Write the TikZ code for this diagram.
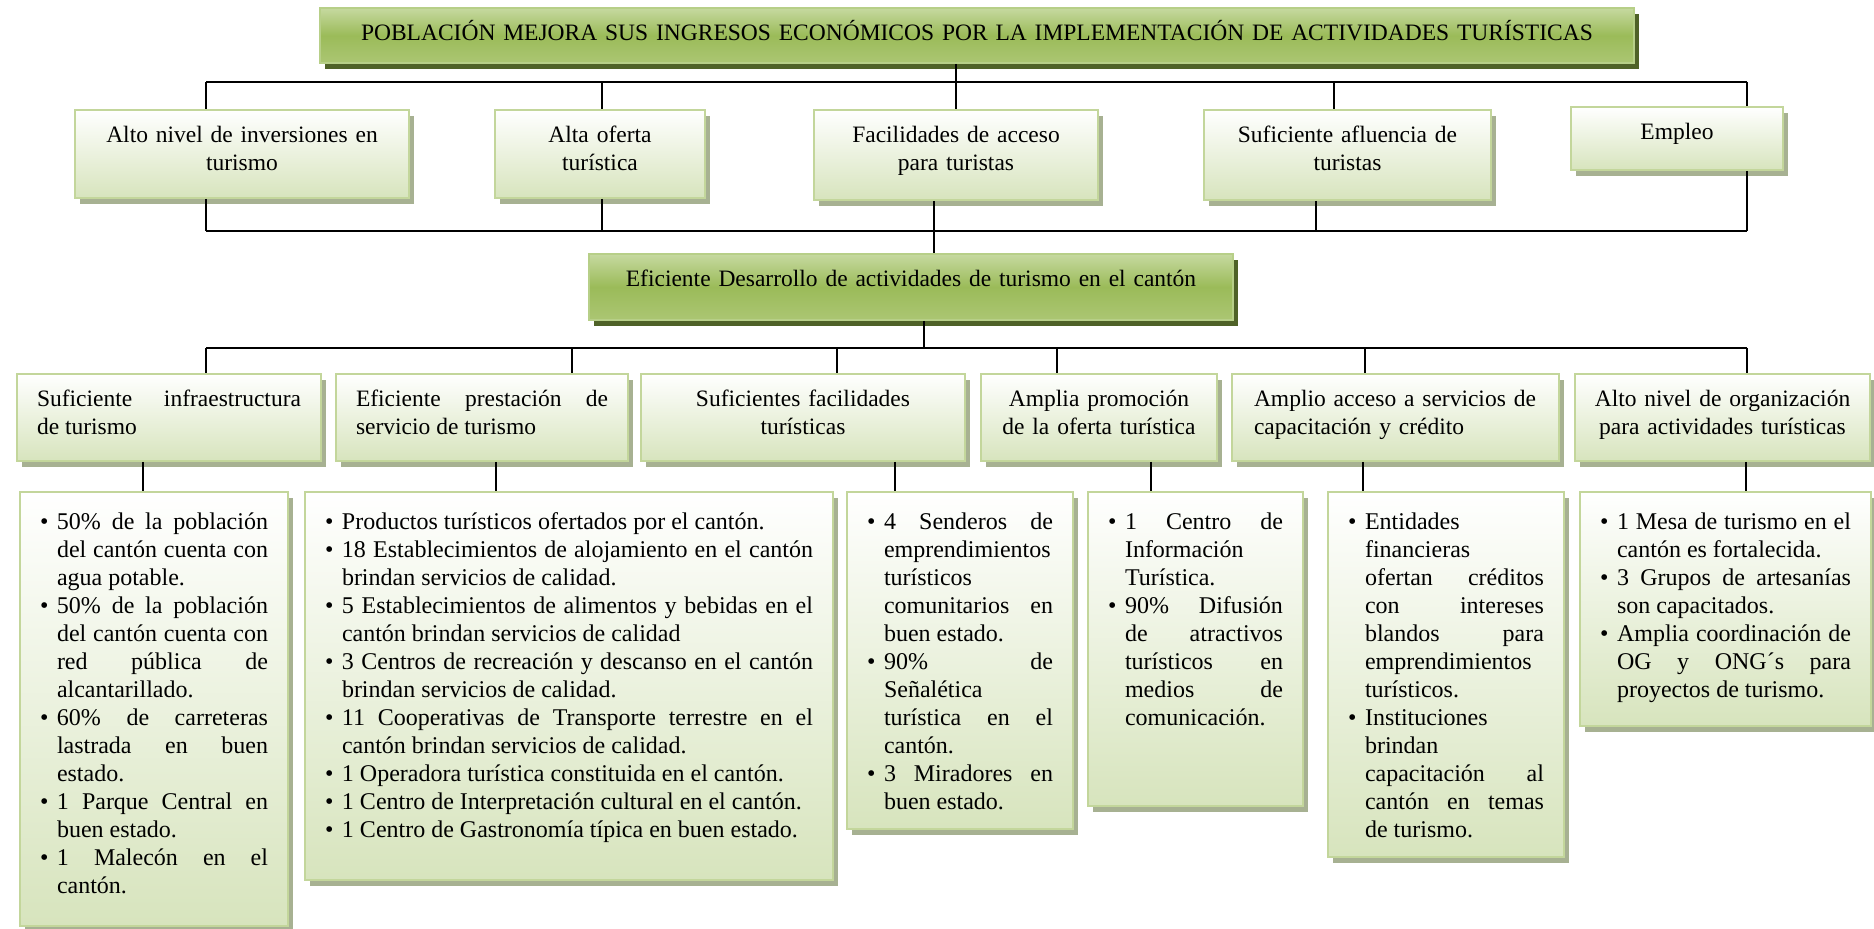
\documentclass[tikz,border=0pt]{standalone}
\usepackage{fontspec}
\setmainfont{Liberation Serif}
\usetikzlibrary{shadows}

\definecolor{leafline}{HTML}{C3D69B}
\definecolor{leaffill}{HTML}{D7E4BD}
\definecolor{leafshade}{HTML}{A7B192}
\definecolor{headtop}{HTML}{C6D9A0}
\definecolor{headmid}{HTML}{9BBB59}
\definecolor{headbot}{HTML}{ABC673}
\definecolor{headline}{HTML}{B7CF88}
\definecolor{headshade}{HTML}{4F6228}

\hyphenpenalty=10000
\exhyphenpenalty=10000
\tolerance=10000
\hbadness=10000

\newcommand{\bul}{\noindent\hangindent=8.5pt\hangafter=1\makebox[8.5pt][l]{\textbullet}\ignorespaces}

\tikzset{
  boxbase/.style={anchor=north west, line width=1pt, inner xsep=4pt, inner ysep=0pt,
    text height=16.5pt, font=\fontsize{11.75}{14}\selectfont},
  card/.style={boxbase, draw=leafline, top color=white, bottom color=leaffill,
    drop shadow={shadow xshift=2.5pt, shadow yshift=-3pt, fill=leafshade, opacity=1}},
  head/.style={boxbase, draw=headline, top color=headtop, bottom color=headbot, middle color=headmid,
    drop shadow={shadow xshift=2.5pt, shadow yshift=-3pt, fill=headshade, opacity=1}},
  bullets/.style={card, inner xsep=10pt, text height=19pt, align=justify,
    font=\fontsize{12}{14}\selectfont},
  link/.style={draw=black, line width=1pt}
}

\begin{document}
\begin{tikzpicture}[x=0.5pt, y=-0.5pt]
  \useasboundingbox (0,0) rectangle (1874,929);

  \node[head, text width=649pt, text depth=11pt, align=center] (T) at (319,7)
    {POBLACIÓN MEJORA SUS INGRESOS ECONÓMICOS POR LA IMPLEMENTACIÓN DE ACTIVIDADES TURÍSTICAS};

  \node[card, text width=159pt, text depth=27.5pt, align=center] (A1) at (74,109)
    {Alto nivel de inversiones en\\turismo};
  \node[card, text width=97pt, text depth=27.5pt, align=center] (A2) at (494,109)
    {Alta oferta\\turística};
  \node[card, text width=134pt, text depth=28.5pt, align=center] (A3) at (813,109)
    {Facilidades de acceso\\para turistas};
  \node[card, text width=135.5pt, text depth=28.5pt, align=center] (A4) at (1203,109)
    {Suficiente afluencia de\\turistas};
  \node[card, text width=98pt, text depth=15pt, align=center] (A5) at (1570,106)
    {Empleo};

  \node[head, text width=314pt, text depth=16.5pt, align=center] (E) at (588,253)
    {Eficiente Desarrollo de actividades de turismo en el cantón};

  \node[card, inner xsep=10pt, text width=132pt, text depth=27pt, align=justify] (B1) at (16,373)
    {Suficiente infraestructura\linebreak de turismo};
  \node[card, inner xsep=10pt, text width=126pt, text depth=27pt, align=justify] (B2) at (335,373)
    {Eficiente prestación de\linebreak servicio de turismo};
  \node[card, text width=154pt, text depth=27pt, align=center] (B3) at (640,373)
    {Suficientes facilidades\\turísticas};
  \node[card, text width=110pt, text depth=27pt, align=center] (B4) at (980,373)
    {Amplia promoción\\de la oferta turística};
  \node[card, text width=155.5pt, text depth=27pt, align=left] (B5) at (1231,373)
    {\hspace*{7pt}Amplio acceso a servicios de\\\hspace*{7pt}capacitación y crédito};
  \node[card, text width=139.5pt, text depth=27pt, align=center] (B6) at (1574,373)
    {Alto nivel de organización\\para actividades turísticas};

  \node[bullets, text width=114pt, text depth=198pt] (R1) at (19,491) {%
    \bul 50\% de la población\linebreak del cantón cuenta con\linebreak agua potable.\par
    \bul 50\% de la población\linebreak del cantón cuenta con\linebreak red pública de\linebreak alcantarillado.\par
    \bul 60\% de carreteras\linebreak lastrada en buen\linebreak estado.\par
    \bul 1 Parque Central en\linebreak buen estado.\par
    \bul 1 Malecón en el\linebreak cantón.\par};
  \node[bullets, text width=244pt, text depth=175pt] (R2) at (304,491) {%
    \bul Productos turísticos ofertados por el cantón.\par
    \bul 18 Establecimientos de alojamiento en el cantón\linebreak brindan servicios de calidad.\par
    \bul 5 Establecimientos de alimentos y bebidas en el\linebreak cantón brindan servicios de calidad\par
    \bul 3 Centros de recreación y descanso en el cantón\linebreak brindan servicios de calidad.\par
    \bul 11 Cooperativas de Transporte terrestre en el\linebreak cantón brindan servicios de calidad.\par
    \bul 1 Operadora turística constituida en el cantón.\par
    \bul 1 Centro de Interpretación cultural en el cantón.\par
    \bul 1 Centro de Gastronomía típica en buen estado.\par};
  \node[bullets, text width=93pt, text depth=149.5pt] (R3) at (846,491) {%
    \bul 4 Senderos de\linebreak emprendimientos\linebreak turísticos\linebreak comunitarios en\linebreak buen estado.\par
    \bul 90\% de\linebreak Señalética\linebreak turística en el\linebreak cantón.\par
    \bul 3 Miradores en\linebreak buen estado.\par};
  \node[bullets, text width=87.5pt, text depth=138pt] (R4) at (1087,491) {%
    \bul 1 Centro de\linebreak Información\linebreak Turística.\par
    \bul 90\% Difusión\linebreak de atractivos\linebreak turísticos en\linebreak medios de\linebreak comunicación.\par};
  \node[bullets, text width=98pt, text depth=163.5pt] (R5) at (1327,491) {%
    \bul Entidades\linebreak financieras\linebreak ofertan créditos\linebreak con intereses\linebreak blandos para\linebreak emprendimientos\linebreak turísticos.\par
    \bul Instituciones\linebreak brindan\linebreak capacitación al\linebreak cantón en temas\linebreak de turismo.\par};
  \node[bullets, text width=125.5pt, text depth=98pt] (R6) at (1579,491) {%
    \bul 1 Mesa de turismo en el\linebreak cantón es fortalecida.\par
    \bul 3 Grupos de artesanías\linebreak son capacitados.\par
    \bul Amplia coordinación de\linebreak OG y ONG´s para\linebreak proyectos de turismo.\par};

  \begin{scope}[link]
    \draw (206,82) -- (1747,82);
    \draw (A3.north |- T.south) -- (A3.north);
    \draw (206,82) -- (206,0 |- A1.north);
    \draw (602,82) -- (602,0 |- A2.north);
    \draw (1334,82) -- (1334,0 |- A4.north);
    \draw (1747,82) -- (1747,0 |- A5.north);
    \draw (206,231) -- (1747,231);
    \draw (206,0 |- A1.south) -- (206,231);
    \draw (602,0 |- A2.south) -- (602,231);
    \draw (934,0 |- A3.south) -- (934,0 |- E.north);
    \draw (1316,0 |- A4.south) -- (1316,231);
    \draw (1747,0 |- A5.south) -- (1747,231);
    \draw (206,348) -- (1747,348);
    \draw (924,0 |- E.south) -- (924,348);
    \draw (206,348) -- (206,0 |- B1.north);
    \draw (572,348) -- (572,0 |- B2.north);
    \draw (837,348) -- (837,0 |- B3.north);
    \draw (1057,348) -- (1057,0 |- B4.north);
    \draw (1365,348) -- (1365,0 |- B5.north);
    \draw (1747,348) -- (1747,0 |- B6.north);
    \draw (143,0 |- B1.south) -- (143,0 |- R1.north);
    \draw (496,0 |- B2.south) -- (496,0 |- R2.north);
    \draw (895,0 |- B3.south) -- (895,0 |- R3.north);
    \draw (1151,0 |- B4.south) -- (1151,0 |- R4.north);
    \draw (1363,0 |- B5.south) -- (1363,0 |- R5.north);
    \draw (1746,0 |- B6.south) -- (1746,0 |- R6.north);
  \end{scope}
\end{tikzpicture}
\end{document}
